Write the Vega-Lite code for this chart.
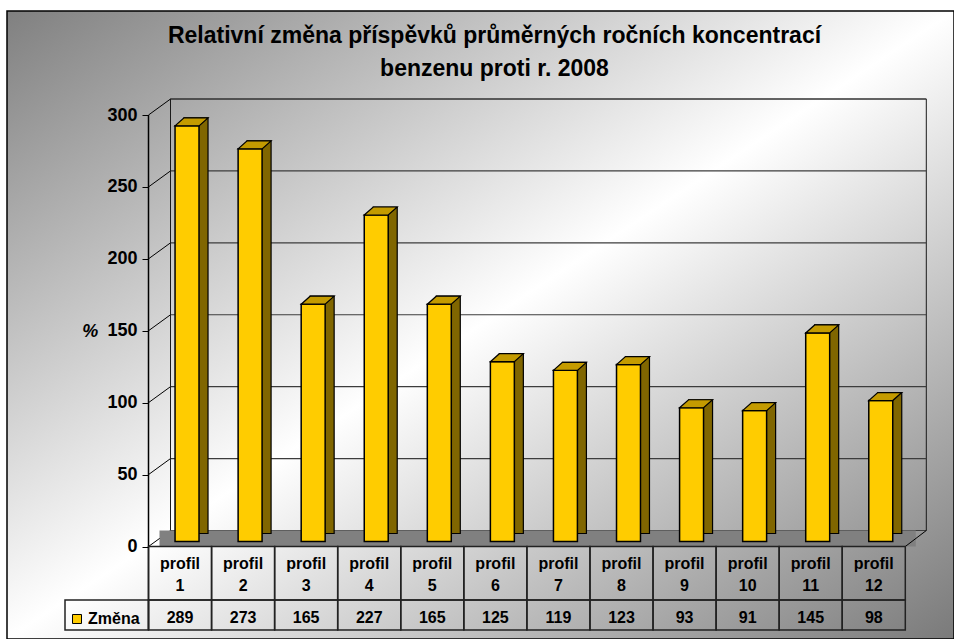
{
  "$schema": "https://vega.github.io/schema/vega-lite/v6.json",
  "width": 947,
  "height": 628,
  "autosize": {"type": "none"},
  "padding": {"left": 7, "top": 11, "right": 0, "bottom": 0},
  "background": "#ffffff",
  "title": {
    "text": ["Relativní změna příspěvků průměrných ročních koncentrací", "benzenu proti r. 2008"],
    "font": "Liberation Sans",
    "fontSize": 23,
    "fontWeight": "bold",
    "color": "#000000",
    "lineHeight": 33,
    "anchor": "middle",
    "dx": 14,
    "offset": -71
  },
  "config": {"view": {"stroke": null}, "font": "Liberation Sans"},
  "data": {
    "values": [
      {"profil": "profil 1", "zmena": 289, "rada": "Změna"},
      {"profil": "profil 2", "zmena": 273, "rada": "Změna"},
      {"profil": "profil 3", "zmena": 165, "rada": "Změna"},
      {"profil": "profil 4", "zmena": 227, "rada": "Změna"},
      {"profil": "profil 5", "zmena": 165, "rada": "Změna"},
      {"profil": "profil 6", "zmena": 125, "rada": "Změna"},
      {"profil": "profil 7", "zmena": 119, "rada": "Změna"},
      {"profil": "profil 8", "zmena": 123, "rada": "Změna"},
      {"profil": "profil 9", "zmena": 93, "rada": "Změna"},
      {"profil": "profil 10", "zmena": 91, "rada": "Změna"},
      {"profil": "profil 11", "zmena": 145, "rada": "Změna"},
      {"profil": "profil 12", "zmena": 98, "rada": "Změna"}
    ]
  },
  "datasets": {
    "ticks": [{"v": 0}, {"v": 50}, {"v": 100}, {"v": 150}, {"v": 200}, {"v": 250}, {"v": 300}]
  },
  "layer": [
    {
      "transform": [{"filter": "datum.profil === 'profil 1'"}],
      "mark": {
        "type": "rect",
        "opacity": 1,
        "fill": {
          "gradient": "linear", "x1": 0, "y1": 0, "x2": 1, "y2": 1,
          "stops": [
            {"offset": 0, "color": "#808080"},
            {"offset": 0.5, "color": "#ffffff"},
            {"offset": 1, "color": "#7a7a7a"}
          ]
        },
        "stroke": "#000000",
        "strokeWidth": 1.5
      },
      "encoding": {}
    },
    {
      "transform": [{"filter": "datum.profil === 'profil 1'"}],
      "mark": {"type": "rect", "filled": false, "stroke": "#1a1a1a", "strokeWidth": 1, "opacity": 1, "xOffset": 22, "x2Offset": 21, "yOffset": -16, "y2Offset": -16},
      "encoding": {
        "x": {"datum": "profil 1", "type": "nominal", "bandPosition": 0},
        "x2": {"datum": "profil 12", "bandPosition": 1},
        "y": {"datum": 300, "type": "quantitative"},
        "y2": {"datum": 0}
      }
    },
    {
      "data": {"name": "ticks"},
      "mark": {"type": "rule", "color": "#3c3c3c", "strokeWidth": 1.2, "xOffset": 22, "x2Offset": 21, "yOffset": -16},
      "encoding": {
        "x": {"datum": "profil 1", "type": "nominal", "bandPosition": 0},
        "x2": {"datum": "profil 12", "bandPosition": 1},
        "y": {"field": "v", "type": "quantitative"}
      }
    },
    {
      "data": {"name": "ticks"},
      "mark": {"type": "rule", "color": "#000000", "strokeWidth": 1, "x2Offset": 22, "y2Offset": -16},
      "encoding": {
        "x": {"datum": "profil 1", "type": "nominal", "bandPosition": 0},
        "x2": {"datum": "profil 1", "bandPosition": 0},
        "y": {"field": "v", "type": "quantitative"},
        "y2": {"field": "v"}
      }
    },
    {
      "transform": [{"filter": "datum.profil === 'profil 1'"}],
      "mark": {"type": "rect", "fill": "#808080", "opacity": 1, "xOffset": 11, "x2Offset": 10.5, "y2Offset": -16},
      "encoding": {
        "x": {"datum": "profil 1", "type": "nominal", "bandPosition": 0},
        "x2": {"datum": "profil 12", "bandPosition": 1},
        "y": {"datum": 0, "type": "quantitative"},
        "y2": {"datum": 0}
      }
    },
    {
      "transform": [{"filter": "datum.profil === 'profil 1'"}],
      "mark": {"type": "rule", "color": "#000000", "strokeWidth": 1, "x2Offset": 21, "y2Offset": -16},
      "encoding": {
        "x": {"datum": "profil 12", "type": "nominal", "bandPosition": 1},
        "x2": {"datum": "profil 12", "bandPosition": 1},
        "y": {"datum": 0, "type": "quantitative"},
        "y2": {"datum": 0}
      }
    },
    {
      "mark": {"type": "bar", "width": {"band": 0.38}, "fill": "#806600", "stroke": "#000000", "strokeWidth": 1.2, "opacity": 1, "xOffset": 16, "yOffset": -13, "y2Offset": -13},
      "encoding": {
        "x": {"field": "profil", "type": "nominal"},
        "y": {"field": "zmena", "type": "quantitative"},
        "y2": {"datum": 0}
      }
    },
    {
      "mark": {"type": "bar", "width": {"band": 0.38}, "stroke": "#000000", "strokeWidth": 1.5, "opacity": 1, "xOffset": 7, "yOffset": -5, "y2Offset": -5},
      "encoding": {
        "x": {
          "field": "profil",
          "type": "nominal",
          "sort": null,
          "scale": {
            "domain": ["profil 1", "profil 2", "profil 3", "profil 4", "profil 5", "profil 6", "profil 7", "profil 8", "profil 9", "profil 10", "profil 11", "profil 12"],
            "range": [141.5, 898.3],
            "paddingInner": 0,
            "paddingOuter": 0
          },
          "axis": {
            "title": null,
            "zindex": 2,
            "domain": false,
            "ticks": false,
            "tickSize": 0,
            "grid": false,
            "labelExpr": "split(datum.label, ' ')",
            "labelFont": "Liberation Sans",
            "labelFontSize": 16,
            "labelFontWeight": "bold",
            "labelColor": "#000000",
            "labelAngle": 0,
            "labelAlign": "center",
            "labelPadding": 21.8,
            "labelBaseline": "alphabetic",
            "labelLineHeight": 22.7,
            "labelOverlap": false,
            "offset": -92.5
          }
        },
        "y": {
          "field": "zmena",
          "type": "quantitative",
          "scale": {"domain": [-64.31, 372.31], "nice": false, "zero": false},
          "axis": {
            "zindex": 2,
            "values": [0, 50, 100, 150, 200, 250, 300],
            "title": "%",
            "titleAngle": 0,
            "titleFont": "Liberation Sans",
            "titleFontSize": 18,
            "titleFontWeight": "bold",
            "titleFontStyle": "italic",
            "titleColor": "#000000",
            "titleX": -58.3,
            "titleY": 320,
            "titleAlign": "center",
            "titleBaseline": "middle",
            "domain": false,
            "grid": false,
            "ticks": true,
            "tickSize": 6,
            "tickColor": "#000000",
            "tickWidth": 1,
            "labelFont": "Liberation Sans",
            "labelFontSize": 18,
            "labelFontWeight": "bold",
            "labelColor": "#000000",
            "labelPadding": 5,
            "labelFlush": false,
            "labelOverlap": false,
            "offset": -141
          }
        },
        "y2": {"datum": 0},
        "color": {
          "field": "rada",
          "type": "nominal",
          "scale": {"range": ["#FFCC00"]},
          "legend": {
            "title": null,
            "zindex": 2,
            "orient": "none",
            "legendX": 62,
            "legendY": 600,
            "padding": 0,
            "symbolType": "square",
            "symbolSize": 81,
            "symbolStrokeColor": "#000000",
            "symbolStrokeWidth": 1,
            "symbolOpacity": 1,
            "labelFont": "Liberation Sans",
            "labelFontSize": 16,
            "labelFontWeight": "bold",
            "labelColor": "#000000",
            "labelOffset": 3
          }
        }
      }
    },
    {
      "mark": {"type": "point", "shape": "M -12 0 L 12 0 L 21 -8 L -3 -8 Z", "size": 4, "filled": true, "fill": "#C49B00", "stroke": "#000000", "strokeWidth": 1.2, "opacity": 1, "xOffset": 7, "yOffset": -5},
      "encoding": {
        "x": {"field": "profil", "type": "nominal"},
        "y": {"field": "zmena", "type": "quantitative"}
      }
    },
    {
      "transform": [{"filter": "datum.profil === 'profil 1'"}],
      "mark": {"type": "rule", "color": "#000000", "strokeWidth": 1.5},
      "encoding": {
        "x": {"datum": "profil 1", "type": "nominal", "bandPosition": 0},
        "y": {"datum": 300, "type": "quantitative"},
        "y2": {"datum": -58.05}
      }
    },
    {
      "mark": {"type": "rect", "filled": false, "stroke": "#222222", "strokeWidth": 1.5, "opacity": 1},
      "encoding": {
        "x": {"field": "profil", "type": "nominal", "bandPosition": 0},
        "x2": {"field": "profil", "bandPosition": 1},
        "y": {"datum": 0, "type": "quantitative"},
        "y2": {"datum": -37.2}
      }
    },
    {
      "mark": {"type": "rect", "filled": false, "stroke": "#222222", "strokeWidth": 1.5, "opacity": 1},
      "encoding": {
        "x": {"field": "profil", "type": "nominal", "bandPosition": 0},
        "x2": {"field": "profil", "bandPosition": 1},
        "y": {"datum": -37.2, "type": "quantitative"},
        "y2": {"datum": -58.05}
      }
    },
    {
      "transform": [{"filter": "datum.profil === 'profil 1'"}],
      "mark": {"type": "rect", "filled": false, "stroke": "#222222", "strokeWidth": 1.5, "opacity": 1, "xOffset": -83.5},
      "encoding": {
        "x": {"field": "profil", "type": "nominal", "bandPosition": 0},
        "x2": {"field": "profil", "bandPosition": 0},
        "y": {"datum": -37.2, "type": "quantitative"},
        "y2": {"datum": -58.05}
      }
    },
    {
      "mark": {"type": "text", "font": "Liberation Sans", "fontSize": 16, "fontWeight": "bold", "color": "#000000", "baseline": "alphabetic", "align": "center"},
      "encoding": {
        "x": {"field": "profil", "type": "nominal"},
        "y": {"datum": -52.84, "type": "quantitative"},
        "text": {"field": "zmena", "type": "quantitative"}
      }
    }
  ]
}
